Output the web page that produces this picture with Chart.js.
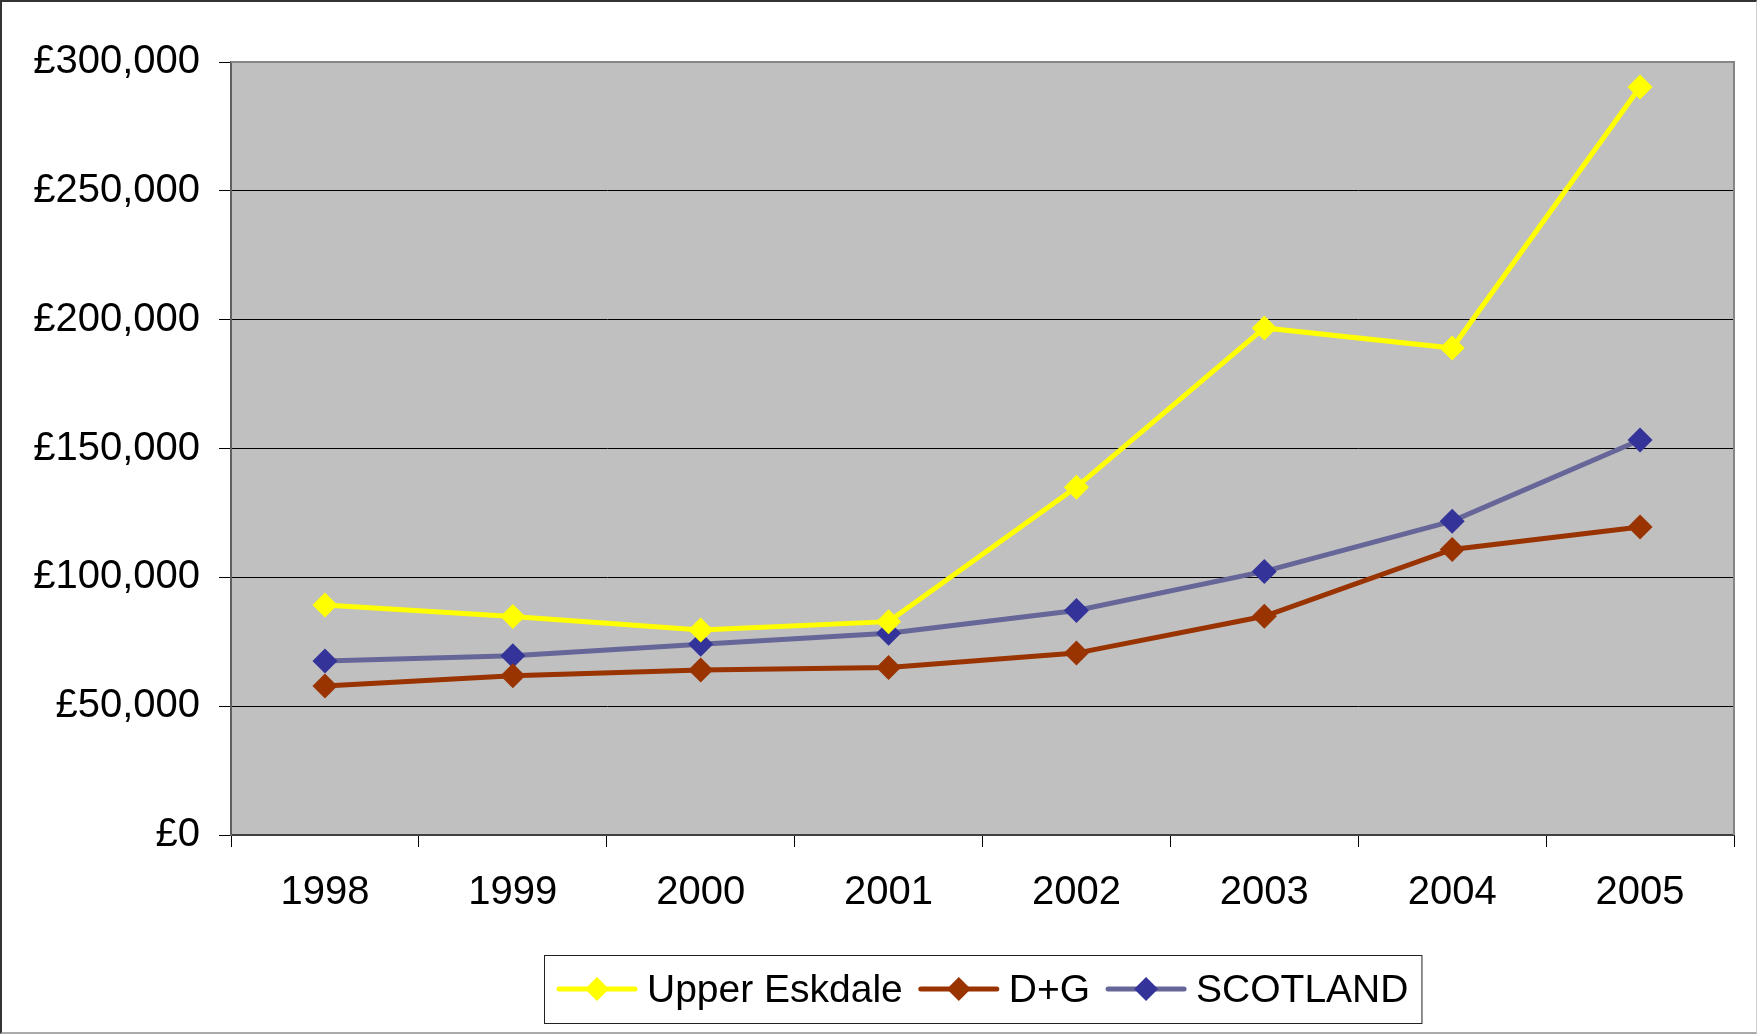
<!DOCTYPE html>
<html>
<head>
<meta charset="utf-8">
<script src="https://cdn.jsdelivr.net/npm/chart.js@4/dist/chart.umd.min.js"></script>
<style>
  html, body { margin: 0; padding: 0; background: #fff; }
  #wrap { position: relative; width: 1757px; height: 1034px; }
  canvas { display: block; }
  #frame {
    position: absolute; left: 0; top: 0; width: 1757px; height: 1034px;
    box-sizing: border-box; pointer-events: none;
    border-top: 2px solid #333; border-left: 2px solid #333;
    border-bottom: 2px solid #aaa; border-right: 1px solid #ccc;
  }
</style>
</head>
<body>
<div id="wrap">
  <canvas id="c" width="1757" height="1034"></canvas>
  <div id="frame"></div>
</div>
<script>
// Average house prices, 1998-2005
const years = ['1998', '1999', '2000', '2001', '2002', '2003', '2004', '2005'];
const upperEskdale = [89300, 84800, 79600, 82800, 135000, 196800, 189000, 290300];
const dumfriesGalloway = [57800, 61800, 64000, 65000, 70600, 84900, 110800, 119500];
const scotland = [67500, 69600, 74000, 78300, 87100, 102300, 121800, 153300];
const yTicks = [0, 50000, 100000, 150000, 200000, 250000, 300000];

const FONT = '"Liberation Sans", Arial, sans-serif';
const AXIS_FONT_SIZE = 40;
const LEGEND_FONT_SIZE = 39;

// grey plot area with its frame
const plotBackground = {
  id: 'plotBackground',
  beforeDraw(chart) {
    const { ctx, chartArea: a } = chart;
    ctx.save();
    ctx.fillStyle = '#C0C0C0';
    ctx.fillRect(a.left, a.top, a.right - a.left, a.bottom - a.top);
    ctx.restore();
  },
  beforeDatasetsDraw(chart) {
    const { ctx, chartArea: a } = chart;
    ctx.save();
    ctx.strokeStyle = '#858585';
    ctx.lineWidth = 2;
    ctx.beginPath();
    ctx.moveTo(a.left, a.top);
    ctx.lineTo(a.right, a.top);
    ctx.lineTo(a.right, a.bottom);
    ctx.stroke();
    ctx.restore();
  }
};

// boxed legend: line sample with a diamond marker, then the label
const boxedLegend = {
  id: 'boxedLegend',
  afterDraw(chart) {
    const { ctx, chartArea: a } = chart;
    const sampleW = 80, gapText = 10, gapItem = 16, padX = 13;
    const top = 955, h = 68, midY = 989;
    ctx.save();
    ctx.font = LEGEND_FONT_SIZE + 'px ' + FONT;
    const items = chart.data.datasets.map(d => ({ d, w: ctx.measureText(d.label).width }));
    let total = padX * 2;
    items.forEach((it, i) => { total += sampleW + gapText + it.w + (i < items.length - 1 ? gapItem : 0); });
    const left = Math.round((a.left + a.right) / 2 - total / 2);
    ctx.fillStyle = '#fff';
    ctx.fillRect(left, top, total, h);
    ctx.strokeStyle = '#222';
    ctx.lineWidth = 1;
    ctx.strokeRect(left + 0.5, top + 0.5, total, h);
    let x = left + padX;
    items.forEach(({ d, w }) => {
      ctx.strokeStyle = d.borderColor;
      ctx.lineWidth = 5;
      ctx.lineCap = 'round';
      ctx.beginPath();
      ctx.moveTo(x + 2, midY);
      ctx.lineTo(x + sampleW - 2, midY);
      ctx.stroke();
      const cx = x + sampleW / 2, r = 12;
      ctx.fillStyle = d.pointBackgroundColor;
      ctx.beginPath();
      ctx.moveTo(cx - r, midY);
      ctx.lineTo(cx, midY - r);
      ctx.lineTo(cx + r, midY);
      ctx.lineTo(cx, midY + r);
      ctx.closePath();
      ctx.fill();
      x += sampleW + gapText;
      ctx.fillStyle = '#000';
      ctx.textBaseline = 'alphabetic';
      ctx.fillText(d.label, x, 1002);
      x += w + gapItem;
    });
    ctx.restore();
  }
};

function series(label, values, line, marker) {
  return {
    label, data: values,
    borderColor: line, borderWidth: 5, tension: 0,
    pointStyle: 'rectRot', pointRadius: 12.5, pointHoverRadius: 12.5,
    pointBackgroundColor: marker, pointBorderColor: marker, pointBorderWidth: 0
  };
}

new Chart(document.getElementById('c'), {
  type: 'line',
  data: {
    labels: years,
    datasets: [
      series('Upper Eskdale', upperEskdale, '#FFFF00', '#FFFF00'),
      series('D+G', dumfriesGalloway, '#993300', '#993300'),
      series('SCOTLAND', scotland, '#666699', '#333399')
    ]
  },
  options: {
    responsive: false,
    animation: false,
    events: [],
    layout: { padding: { left: 0, top: 62, right: 23, bottom: 119 } },
    plugins: { legend: { display: false }, tooltip: { enabled: false } },
    scales: {
      x: {
        offset: true,
        grid: { offset: true, drawOnChartArea: false, drawTicks: true, tickLength: 12, color: '#000', lineWidth: 1 },
        border: { display: true, color: '#404040', width: 2 },
        ticks: { color: '#000', font: { family: FONT, size: AXIS_FONT_SIZE }, padding: 22, maxRotation: 0 },
        afterFit(s) { s.height = 80; }
      },
      y: {
        min: 0, max: 300000,
        afterBuildTicks(s) { s.ticks = yTicks.map(v => ({ value: v })); },
        grid: { color: '#000', lineWidth: 1, tickLength: 12, drawTicks: true },
        border: { display: true, color: '#606060', width: 2 },
        ticks: {
          color: '#000', font: { family: FONT, size: AXIS_FONT_SIZE }, padding: 19,
          callback: v => '£' + Number(v).toLocaleString('en-GB')
        },
        afterFit(s) { s.width = 231; }
      }
    }
  },
  plugins: [plotBackground, boxedLegend]
});
</script>
</body>
</html>
